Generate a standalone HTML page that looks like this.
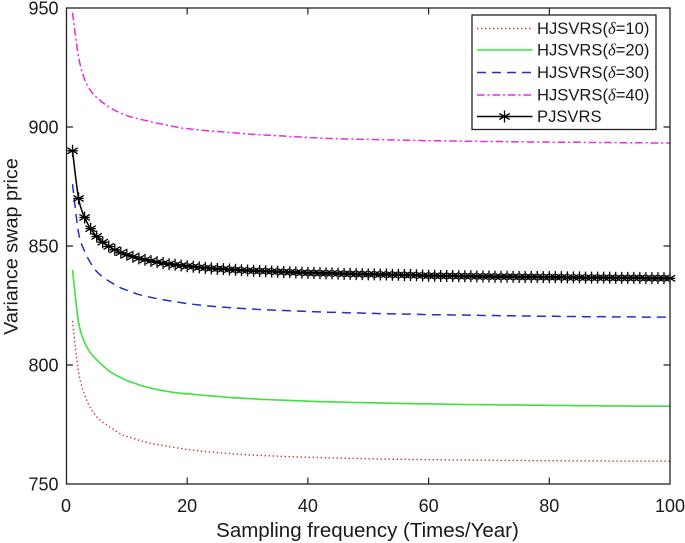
<!DOCTYPE html>
<html>
<head>
<meta charset="utf-8">
<title>Variance swap price</title>
<style>
html,body{margin:0;padding:0;background:#fff;width:685px;height:543px;overflow:hidden}
svg{display:block}
text{font-family:"Liberation Sans",sans-serif;fill:#1a1a1a}
</style>
</head>
<body>
<svg id="chart" width="685" height="543" viewBox="0 0 685 543" xmlns="http://www.w3.org/2000/svg"></svg>
<script>
const xTicks = [0, 20, 40, 60, 80, 100];
const yTicks = [750, 800, 850, 900, 950];
const samplingFrequency = [1,2,3,4,5,6,7,8,9,10,11,12,13,14,15,16,17,18,19,20,21,22,23,24,25,26,27,28,29,30,31,32,33,34,35,36,37,38,39,40,41,42,43,44,45,46,47,48,49,50,51,52,53,54,55,56,57,58,59,60,61,62,63,64,65,66,67,68,69,70,71,72,73,74,75,76,77,78,79,80,81,82,83,84,85,86,87,88,89,90,91,92,93,94,95,96,97,98,99,100];
const hjsvrs10 = [818.5,797,787.5,781.8,778.3,776,774.3,772.6,771,770,769.2,768.4,767.7,767.1,766.6,766.2,765.7,765.3,764.9,764.5,764.2,763.9,763.6,763.4,763.2,763,762.8,762.6,762.4,762.3,762.1,762,761.9,761.8,761.7,761.6,761.5,761.4,761.3,761.2,761.2,761.1,761,760.9,760.9,760.8,760.8,760.7,760.7,760.6,760.6,760.5,760.5,760.4,760.4,760.4,760.3,760.3,760.3,760.2,760.2,760.2,760.1,760.1,760.1,760.1,760,760,760,760,759.9,759.9,759.9,759.9,759.9,759.9,759.8,759.8,759.8,759.8,759.8,759.8,759.7,759.7,759.7,759.7,759.7,759.7,759.7,759.6,759.6,759.6,759.6,759.6,759.6,759.6,759.6,759.6,759.6,759.5];
const hjsvrs20 = [840,818,809.5,805,802.2,799.8,797.6,796,794.7,793.5,792.6,791.7,790.9,790.3,789.7,789.2,788.8,788.4,788.1,787.9,787.7,787.4,787.2,787,786.8,786.6,786.4,786.2,786.1,785.9,785.8,785.6,785.5,785.4,785.3,785.2,785.1,785,784.9,784.8,784.7,784.6,784.6,784.5,784.4,784.4,784.3,784.2,784.2,784.1,784.1,784,784,783.9,783.9,783.8,783.8,783.7,783.7,783.7,783.6,783.6,783.5,783.5,783.5,783.4,783.4,783.4,783.3,783.3,783.3,783.2,783.2,783.2,783.2,783.1,783.1,783.1,783.1,783,783,783,783,782.9,782.9,782.9,782.9,782.9,782.8,782.8,782.8,782.8,782.8,782.7,782.7,782.7,782.7,782.7,782.7,782.6];
const hjsvrs30 = [876,855.5,847.8,842.8,839.3,837,835.3,833.8,832.4,831.4,830.5,829.6,829,828.4,827.9,827.4,827,826.6,826.2,825.8,825.5,825.2,824.9,824.7,824.5,824.3,824.1,823.9,823.8,823.6,823.5,823.3,823.2,823.1,823,822.9,822.8,822.7,822.6,822.5,822.4,822.3,822.2,822.1,822.1,822,821.9,821.9,821.8,821.7,821.7,821.6,821.6,821.5,821.5,821.4,821.4,821.3,821.2,821.1,821.1,821.1,821.1,821,821,821,820.9,820.9,820.8,820.8,820.8,820.7,820.7,820.7,820.6,820.6,820.6,820.5,820.5,820.5,820.5,820.4,820.4,820.4,820.4,820.3,820.3,820.3,820.3,820.2,820.2,820.2,820.2,820.2,820.1,820.1,820.1,820.1,820.1,820];
const hjsvrs40 = [948,929.5,920,915.3,912.4,910.3,908.5,907,905.8,904.8,904,903.4,902.8,902.2,901.6,901.1,900.6,900.1,899.6,899.3,899,898.7,898.5,898.3,898.1,897.9,897.7,897.5,897.3,897.1,896.9,896.8,896.6,896.5,896.3,896.2,896,895.9,895.8,895.6,895.5,895.4,895.2,895.1,895.1,895,894.9,894.9,894.8,894.8,894.7,894.7,894.6,894.6,894.5,894.5,894.4,894.4,894.3,894.2,894.2,894.2,894.1,894.1,894.1,894,894,894,893.9,893.9,893.9,893.9,893.8,893.8,893.8,893.8,893.7,893.7,893.7,893.7,893.6,893.6,893.6,893.6,893.6,893.5,893.5,893.5,893.5,893.5,893.5,893.4,893.4,893.4,893.4,893.4,893.3,893.3,893.3,893.3];
const pjsvrs = [890,870,862,857.3,854,851.6,849.8,848.4,847.2,846.3,845.5,844.8,844.2,843.7,843.2,842.8,842.4,842.1,841.8,841.5,841.3,841,840.8,840.6,840.4,840.3,840.1,840,839.8,839.7,839.6,839.5,839.4,839.3,839.2,839.1,839,838.9,838.8,838.7,838.7,838.6,838.5,838.5,838.4,838.3,838.3,838.2,838.2,838.1,838.1,838,838,837.9,837.9,837.8,837.8,837.7,837.6,837.5,837.5,837.4,837.4,837.4,837.3,837.3,837.3,837.2,837.2,837.2,837.1,837.1,837.1,837.1,837,837,837,837,836.9,836.9,836.9,836.9,836.8,836.8,836.8,836.7,836.7,836.7,836.7,836.7,836.6,836.6,836.6,836.6,836.6,836.5,836.5,836.5,836.5,836.4];

const NS = 'http://www.w3.org/2000/svg';
const svg = document.getElementById('chart');
const L = 66.5, R = 670, T = 8, B = 484;
function xs(v){ return L + (v - 0) / 100 * (R - L); }
function ys(v){ return B - (v - 750) / 200 * (B - T); }
function mk(tag, attrs, parent){
  const el = document.createElementNS(NS, tag);
  for (const k in attrs) el.setAttribute(k, attrs[k]);
  (parent || svg).appendChild(el);
  return el;
}
function star(cx, cy, r, parent){
  const a = r * 0.866, b = r * 0.5;
  return mk('path', {
    d: 'M' + cx + ' ' + (cy - r) + 'V' + (cy + r) +
       'M' + (cx - a) + ' ' + (cy - b) + 'L' + (cx + a) + ' ' + (cy + b) +
       'M' + (cx - a) + ' ' + (cy + b) + 'L' + (cx + a) + ' ' + (cy - b) +
       'M' + (cx - a) + ' ' + cy + 'H' + (cx + a),
    fill: 'none', stroke: '#000', 'stroke-width': 1.3
  }, parent);
}
function smoothPath(vals){
  const pts = vals.map(function(v, j){ return [xs(samplingFrequency[j]), ys(v)]; });
  let d = 'M' + pts[0][0].toFixed(2) + ' ' + pts[0][1].toFixed(2);
  for (let j = 0; j < pts.length - 1; j++) {
    const p0 = pts[Math.max(j - 1, 0)], p1 = pts[j], p2 = pts[j + 1], p3 = pts[Math.min(j + 2, pts.length - 1)];
    d += 'C' + (p1[0] + (p2[0] - p0[0]) / 6).toFixed(2) + ' ' + (p1[1] + (p2[1] - p0[1]) / 6).toFixed(2) + ' ' +
         (p2[0] - (p3[0] - p1[0]) / 6).toFixed(2) + ' ' + (p2[1] - (p3[1] - p1[1]) / 6).toFixed(2) + ' ' +
         p2[0].toFixed(2) + ' ' + p2[1].toFixed(2);
  }
  return d;
}

const seriesNames = ['hjsvrs-delta-10', 'hjsvrs-delta-20', 'hjsvrs-delta-30', 'hjsvrs-delta-40', 'pjsvrs'];
const seriesValues = [hjsvrs10, hjsvrs20, hjsvrs30, hjsvrs40, pjsvrs];
const seriesColors = ['#c8343c', '#3fe03f', '#2230c8', '#e82ae0', '#000000'];
const seriesDash = ['1.4 2.6', '', '9 6', '7.5 3 2 3', ''];
const seriesWidth = [1.4, 1.6, 1.5, 1.5, 1.5];

seriesValues.forEach(function(vals, i){
  const line = mk('path', {d: smoothPath(vals), fill: 'none', stroke: seriesColors[i], 'stroke-width': seriesWidth[i]});
  if (seriesDash[i]) line.setAttribute('stroke-dasharray', seriesDash[i]);
  
  
});

const markerGroup = mk('g', {});


pjsvrs.forEach(function(v, j){
  star(xs(samplingFrequency[j]), ys(v), 6, markerGroup);
});

const frame = mk('rect', {x: L, y: T, width: R - L, height: B - T, fill: 'none', stroke: '#222', 'stroke-width': 1.3});



xTicks.forEach(function(t){
  const x = xs(t);
  if (t > 0 && t < 100) {
    const m = mk('path', {d: 'M' + x + ' ' + B + 'v-6.5M' + x + ' ' + T + 'v6.5', stroke: '#222', 'stroke-width': 1.2, fill: 'none'});
    
    
  }
  const lab = mk('text', {x: x - (t === 0 ? 0.5 : 0), y: 512, 'font-size': 18, 'text-anchor': 'middle'});
  lab.textContent = t;
  
  
});
yTicks.forEach(function(t){
  const y = ys(t);
  if (t > 750 && t < 950) {
    const m = mk('path', {d: 'M' + L + ' ' + y + 'h6.5M' + R + ' ' + y + 'h-6.5', stroke: '#222', 'stroke-width': 1.2, fill: 'none'});
    
    
  }
  const lab = mk('text', {x: 58.5, y: y + 6.5, 'font-size': 18, 'text-anchor': 'end'});
  lab.textContent = t;
  
  
});

const xTitle = mk('text', {x: 367.5, y: 537, 'font-size': 20.5, 'text-anchor': 'middle'});
xTitle.textContent = 'Sampling frequency (Times/Year)';



const yTitle = mk('text', {x: 0, y: 0, 'font-size': 19.8, 'text-anchor': 'middle', transform: 'translate(17.5 246.5) rotate(-90)'});
yTitle.textContent = 'Variance swap price';



const legend = mk('g', {});


const legendBox = mk('rect', {x: 472, y: 15, width: 184, height: 114.5, fill: '#fff', stroke: '#222', 'stroke-width': 1.3}, legend);


const legendLabels = [['10'], ['20'], ['30'], ['40'], null];
const rowY = [28.5, 50, 72.5, 95, 116.5];
legendLabels.forEach(function(lbl, i){
  const row = mk('g', {}, legend);
  
  
  const ln = mk('line', {x1: 477, x2: 532.5, y1: rowY[i], y2: rowY[i], stroke: seriesColors[i], 'stroke-width': seriesWidth[i]}, row);
  if (seriesDash[i]) ln.setAttribute('stroke-dasharray', seriesDash[i]);
  if (!lbl) star(504.5, rowY[i], 6, row);
  const tx = mk('text', {x: 537, y: rowY[i] + 5.5, 'font-size': 16.6}, row);
  if (lbl) {
    tx.appendChild(document.createTextNode('HJSVRS('));
    const d = mk('tspan', {'font-style': 'italic', 'font-family': '"Liberation Serif",serif'}, tx);
    d.textContent = 'δ';
    tx.appendChild(document.createTextNode('=' + lbl[0] + ')'));
  } else {
    tx.textContent = 'PJSVRS';
  }
});
</script>
</body>
</html>
